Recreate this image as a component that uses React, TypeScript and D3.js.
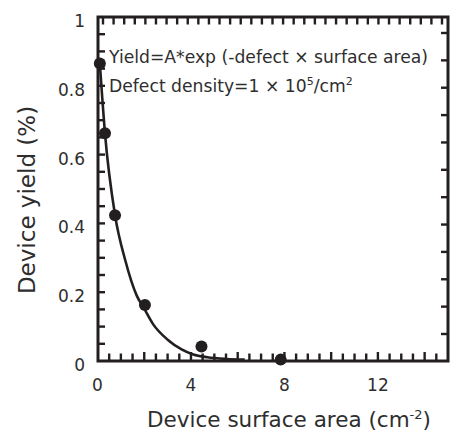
import React from "react";
import * as d3 from "d3";

// data
const pointX = [0.1, 0.32, 0.75, 2.03, 4.45, 7.84];
const pointY = [0.865, 0.662, 0.424, 0.163, 0.042, 0.004];
const curveX = [0.1, 0.32, 0.75, 1.2, 1.68, 2.0, 2.37, 3.0, 3.6, 4.1, 4.7, 5.5, 6.3];
const curveY = [0.865, 0.662, 0.424, 0.29, 0.19, 0.152, 0.108, 0.062, 0.034, 0.019, 0.011, 0.006, 0.004];
const xTickLabels = [0, 4, 8, 12];
const yTickLabels = [0, 0.2, 0.4, 0.6, 0.8, 1];

const W = 452, H = 435;
const L = 98, R = 448, T = 17, B = 361;
const INK = "#231f20";
const TXT = "#2e2e2e";
const FONT = "'DejaVu Sans', 'Noto Sans', sans-serif";

export default function App() {
  const x = d3.scaleLinear().domain([0, 15]).range([97.5, 448]);
  const y = d3.scaleLinear().domain([0, 1]).range([B, T]);

  const bottomTicks = d3.range(0.5, 14.51, 0.5);
  const leftTicks = d3.range(0.05, 0.951, 0.05);
  const topScale = d3.scaleLinear().domain([0, 32]).range([103, 442]);
  const topTicks = d3.range(0, 33);
  const rightScale = d3.scaleLinear().domain([0, 11]).range([33, 334]);
  const rightTicks = d3.range(0, 12);

  const line = d3
    .line<number>()
    .x((_, i) => x(curveX[i]))
    .y((_, i) => y(curveY[i]))
    .curve(d3.curveMonotoneX);

  return (
    <svg width={W} height={H} style={{ position: "absolute", left: 0, top: 0 }}>
      <rect width={W} height={H} fill="#fff" />
      {/* ticks */}
      <g stroke={INK} strokeWidth={2.4}>
        {bottomTicks.map((t) => (
          <line key={"b" + t} x1={x(t)} x2={x(t)} y1={B} y2={B - (t % 2 === 0 ? 9 : 7.5)} />
        ))}
        {topTicks.map((t) => (
          <line key={"t" + t} x1={topScale(t)} x2={topScale(t)} y1={T} y2={T + 7.5} />
        ))}
        {leftTicks.map((t) => (
          <line key={"l" + t} x1={L} x2={L + 7} y1={y(t)} y2={y(t)} />
        ))}
        {rightTicks.map((t) => (
          <line key={"r" + t} x1={R} x2={R - 7} y1={rightScale(t)} y2={rightScale(t)} />
        ))}
      </g>
      {/* frame */}
      <rect x={L} y={T} width={R - L} height={B - T} fill="none" stroke={INK} strokeWidth={3} />
      {/* curve */}
      <path d={line(curveX) || ""} fill="none" stroke={INK} strokeWidth={2.6} />
      {/* points */}
      {pointX.map((px, i) => (
        <circle key={i} cx={x(px)} cy={y(pointY[i])} r={6} fill={INK} />
      ))}
      {/* tick labels */}
      <g fill={TXT} fontFamily={FONT} fontSize={17}>
        {xTickLabels.map((t) => (
          <text key={"xl" + t} x={x(t)} y={B + 30} textAnchor="middle">
            {t}
          </text>
        ))}
        {yTickLabels.map((t) => (
          <text key={"yl" + t} x={85} y={y(t) + 10} textAnchor="end">
            {t}
          </text>
        ))}
      </g>
      {/* annotation */}
      <g fill={TXT} fontFamily={FONT} fontSize={17.2}>
        <text x={109} y={63}>Yield=A*exp (-defect × surface area)</text>
        <text x={109} y={92}>
          Defect density=1 × 10
          <tspan fontSize={11} dy={-7}>5</tspan>
          <tspan dy={7}>/cm</tspan>
          <tspan fontSize={11} dy={-7}>2</tspan>
        </text>
      </g>
      {/* axis titles */}
      <g fill={TXT} fontFamily={FONT}>
        <text x={289} y={427} textAnchor="middle" fontSize={21.5}>
          Device surface area (cm
          <tspan fontSize={13} dy={-8}>-2</tspan>
          <tspan dy={8}>)</tspan>
        </text>
        <text transform={`translate(35,200) rotate(-90)`} textAnchor="middle" fontSize={23}>
          Device yield (%)
        </text>
      </g>
    </svg>
  );
}
